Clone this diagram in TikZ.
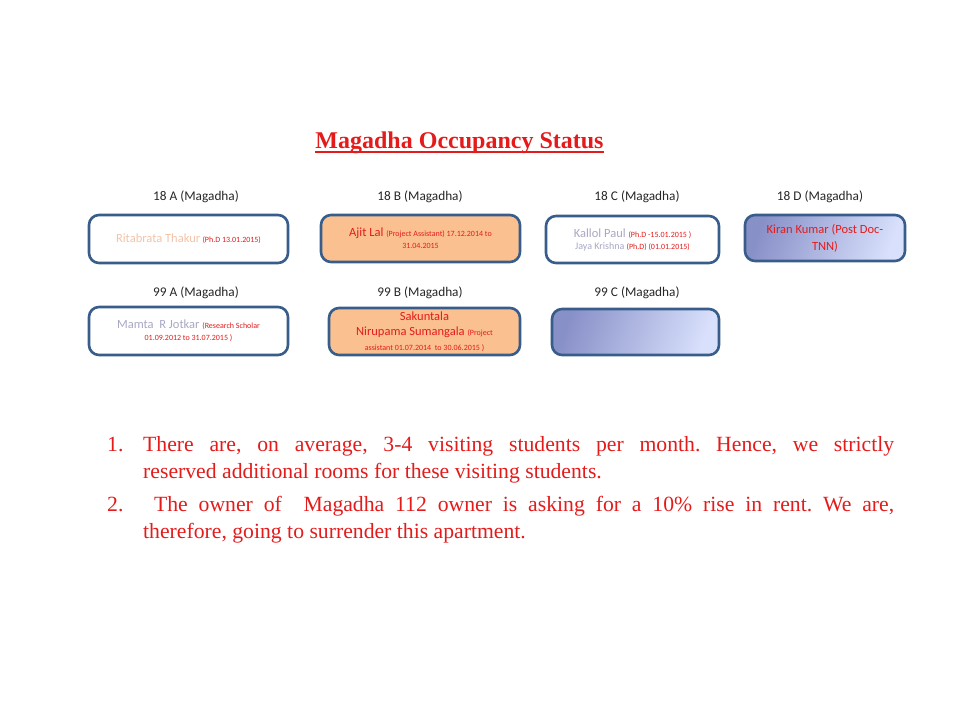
\documentclass[tikz,border=0pt]{standalone}
\usepackage{fontspec}
\setmainfont{Liberation Serif}
\newfontfamily\calib{Carlito}
\definecolor{edgeblue}{HTML}{385D8A}
\definecolor{peach}{HTML}{FAC090}
\definecolor{gradA}{HTML}{8890C8}
\definecolor{gradB}{HTML}{D8E0FC}
\definecolor{txtred}{HTML}{E41B1B}
\definecolor{namepeach}{HTML}{F2C4A8}
\definecolor{namegrey}{HTML}{A8A8C4}
\definecolor{labgrey}{HTML}{262626}
\tikzset{
  roombox/.style={draw=edgeblue, line width=2.6pt, rounded corners=10pt, inner sep=0pt, align=center, font=\calib},
  plainbox/.style={roombox, fill=white},
  peachbox/.style={roombox, fill=peach},
  gradbox/.style={roombox, left color=gradA, right color=gradB, shading angle=70},
  roomlabel/.style={font=\calib\fontsize{13.3}{15}\selectfont, text=labgrey, inner sep=0pt},
  listtext/.style={font=\fontsize{21.7}{26}\selectfont, text=txtred, inner sep=0pt},
}
\newcommand{\smallred}[1]{{\fontsize{8}{9}\selectfont\color{txtred}#1}}
\newcommand{\namefont}{\fontsize{12.5}{15}\selectfont}
\frenchspacing
\begin{document}
\begin{tikzpicture}[x=1pt,y=-1pt]
\useasboundingbox (0,0) rectangle (960,720);
% title
\node[font=\bfseries\fontsize{24}{26}\selectfont, text=txtred, inner sep=0pt, anchor=base] (title) at (459.5,148) {Magadha Occupancy Status};
\draw[txtred, line width=1.3pt] (title.base west) ++(0,4) -- ([yshift=-4pt]title.base east);
% row labels
\node[roomlabel] (l18a) at (196,197) {18 A (Magadha)};
\node[roomlabel] (l18b) at (420,197) {18 B (Magadha)};
\node[roomlabel] (l18c) at (637,197) {18 C (Magadha)};
\node[roomlabel] (l18d) at (820,197) {18 D (Magadha)};
\node[roomlabel] (l99a) at (196,293) {99 A (Magadha)};
\node[roomlabel] (l99b) at (420,293) {99 B (Magadha)};
\node[roomlabel] (l99c) at (637,293) {99 C (Magadha)};
% row 1 boxes
\node[plainbox, minimum width=199pt, minimum height=48pt] (b18a) at (188.5,239)
  {{\namefont\color{namepeach}Ritabrata Thakur} \smallred{(Ph.D 13.01.2015)}};
\node[peachbox, minimum width=199pt, minimum height=47pt] (b18b) at (420.5,238.5)
  {\parbox{185pt}{\centering\namefont{\color{txtred}Ajit Lal} \smallred{(Project Assistant) 17.12.2014 to}\\[-3pt]\smallred{31.04.2015}}};
\node[plainbox, minimum width=173pt, minimum height=47pt] (b18c) at (632.5,239.5)
  {\fontsize{12.5}{16}\selectfont{\color{namegrey}Kallol Paul} \smallred{(Ph.D -15.01.2015 )}\\{\color{namegrey}Jaya Krishna} \smallred{(Ph.D) (01.01.2015)}};
\node[gradbox, minimum width=160pt, minimum height=46pt] (b18d) at (825,238) {};
\node[font=\calib\fontsize{12.5}{17}\selectfont, text=txtred, align=center, inner sep=0pt] (t18d) at (825,238) {Kiran Kumar (Post Doc-\\TNN)};
% row 2 boxes
\node[plainbox, minimum width=199pt, minimum height=48pt] (b99a) at (188.5,331)
  {\parbox{185pt}{\centering\namefont{\color{namegrey}Mamta\ \ R Jotkar} \smallred{(Research Scholar}\\[-3pt]\smallred{01.09.2012 to 31.07.2015 )}}};
\node[peachbox, minimum width=191pt, minimum height=47pt] (b99b) at (424.5,331.5)
  {\parbox{185pt}{\centering\fontsize{12.5}{15.5}\selectfont\color{txtred}Sakuntala\\Nirupama Sumangala \smallred{(Project}\\[-0.5pt]\smallred{assistant 01.07.2014\ \ to 30.06.2015 )}}};
\node[gradbox, minimum width=167pt, minimum height=46pt] (b99c) at (635.5,332) {};
% list
\node[listtext, anchor=base west] (n1) at (107,451) {1.};
\node[listtext, anchor=base west] (i1a) at (143,451) {\makebox[751pt][s]{There are, on average, 3-4 visiting students per month. Hence, we strictly}};
\node[listtext, anchor=base west] (i1b) at (143,478) {reserved additional rooms for these visiting students.};
\node[listtext, anchor=base west] (n2) at (107,511) {2.};
\node[listtext, anchor=base west] (i2a) at (143,511) {\makebox[751pt][s]{\ The owner of\ \ Magadha 112 owner is asking for a 10\% rise in rent. We are,}};
\node[listtext, anchor=base west] (i2b) at (143,538) {therefore, going to surrender this apartment.};
\end{tikzpicture}
\end{document}
